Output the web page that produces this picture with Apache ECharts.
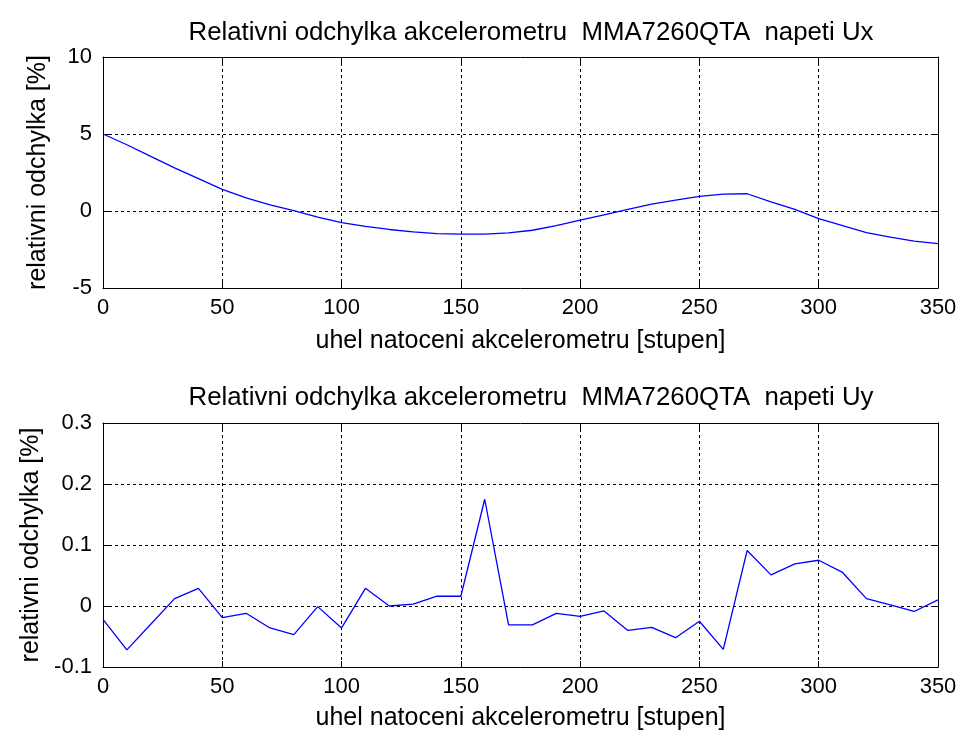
<!DOCTYPE html>
<html>
<head>
<meta charset="utf-8">
<script src="https://cdn.jsdelivr.net/npm/echarts@6/dist/echarts.min.js"></script>
<style>
  html, body { margin: 0; padding: 0; background: #fff; }
  #chart { width: 962px; height: 734px; }
</style>
</head>
<body>
<div id="chart"></div>
<script>
// Rotation angle of the accelerometer [degrees]
const angles = [0, 10, 20, 30, 40, 50, 60, 70, 80, 90, 100, 110, 120, 130, 140, 150, 160, 170,
                180, 190, 200, 210, 220, 230, 240, 250, 260, 270, 280, 290, 300, 310, 320, 330, 340, 350];

// Relative deviation of output voltage Ux [%]
const deviationUx = [5.0, 4.3, 3.55, 2.8, 2.1, 1.4, 0.85, 0.4, 0.02, -0.4, -0.75, -1.0, -1.2, -1.35, -1.47, -1.5,
                     -1.5, -1.42, -1.25, -0.95, -0.6, -0.25, 0.1, 0.45, 0.7, 0.95, 1.1, 1.12, 0.6, 0.1, -0.5,
                     -0.95, -1.4, -1.7, -1.95, -2.12];

// Relative deviation of output voltage Uy [%]
const deviationUy = [-0.022, -0.072, -0.03, 0.012, 0.029, -0.019, -0.012, -0.036, -0.047, -0.001, -0.036, 0.029,
                     0.0, 0.003, 0.016, 0.016, 0.175, -0.031, -0.031, -0.012, -0.017, -0.008, -0.040, -0.035,
                     -0.052, -0.025, -0.071, 0.091, 0.051, 0.069, 0.075, 0.055, 0.012, 0.002, -0.009, 0.010];

const xTicks = { min: 0, max: 350, interval: 50 };
const uxTicks = { min: -5, max: 10, interval: 5 };
const uyTicks = { min: -0.1, max: 0.3, interval: 0.1 };

const titleUx = 'Relativni odchylka akcelerometru  MMA7260QTA  napeti Ux';
const titleUy = 'Relativni odchylka akcelerometru  MMA7260QTA  napeti Uy';
const xName = 'uhel natoceni akcelerometru [stupen]';
const yName = 'relativni odchylka [%]';

const FONT = "'Liberation Sans', Arial, sans-serif";
const textBase = { fontFamily: FONT, color: '#000' };
const tickText = { fontFamily: FONT, color: '#000', fontSize: 22 };

const grids = [
  { left: 103, right: 24, top: 57, height: 231 },
  { left: 103, right: 24, top: 423, height: 244 }
];

const dashed = { show: true, lineStyle: { color: '#000', type: [3, 3], width: 1 } };
const blackLine = { show: true, onZero: false, lineStyle: { color: '#000', width: 1 } };
const innerTick = { show: true, inside: true, length: 6, lineStyle: { color: '#000' } };

function fmt(v) { return String(Math.round(v * 1000) / 1000); }

// Labelled bottom axis plus a mirrored top axis that closes the box with ticks
function xAxes(gi, gap) {
  return [
    {
      type: 'value', gridIndex: gi, position: 'bottom', ...xTicks,
      name: xName, nameLocation: 'middle', nameGap: gap,
      nameTextStyle: { ...textBase, fontSize: 25 },
      axisLine: blackLine, axisTick: innerTick,
      axisLabel: { ...tickText, margin: 9, formatter: fmt },
      splitLine: dashed
    },
    {
      type: 'value', gridIndex: gi, position: 'top', ...xTicks,
      axisLine: blackLine, axisTick: innerTick,
      axisLabel: { show: false }, splitLine: { show: false }
    }
  ];
}

function yAxes(gi, ticks) {
  return [
    {
      type: 'value', gridIndex: gi, position: 'left', ...ticks,
      name: yName, nameLocation: 'middle', nameGap: 52, nameRotate: 90,
      nameTextStyle: { ...textBase, fontSize: 25 },
      axisLine: blackLine, axisTick: innerTick,
      axisLabel: { ...tickText, margin: 11, formatter: fmt },
      splitLine: dashed
    },
    {
      type: 'value', gridIndex: gi, position: 'right', ...ticks,
      axisLine: blackLine, axisTick: innerTick,
      axisLabel: { show: false }, splitLine: { show: false }
    }
  ];
}

const chart = echarts.init(document.getElementById('chart'), null, { renderer: 'canvas' });
chart.setOption({
  animation: false,
  backgroundColor: '#fff',
  title: [
    { text: titleUx, left: 526, top: 15, textAlign: 'center', textStyle: { ...textBase, fontSize: 25.8, fontWeight: 'normal' } },
    { text: titleUy, left: 526, top: 380, textAlign: 'center', textStyle: { ...textBase, fontSize: 25.8, fontWeight: 'normal' } }
  ],
  grid: grids,
  xAxis: [...xAxes(0, 41), ...xAxes(1, 39)],
  yAxis: [...yAxes(0, uxTicks), ...yAxes(1, uyTicks)],
  series: [
    {
      type: 'line', xAxisIndex: 0, yAxisIndex: 0, showSymbol: false,
      lineStyle: { color: '#0000ff', width: 1.3 },
      data: angles.map((a, i) => [a, deviationUx[i]])
    },
    {
      type: 'line', xAxisIndex: 2, yAxisIndex: 2, showSymbol: false,
      lineStyle: { color: '#0000ff', width: 1.3 },
      data: angles.map((a, i) => [a, deviationUy[i]])
    }
  ]
});
</script>
</body>
</html>
